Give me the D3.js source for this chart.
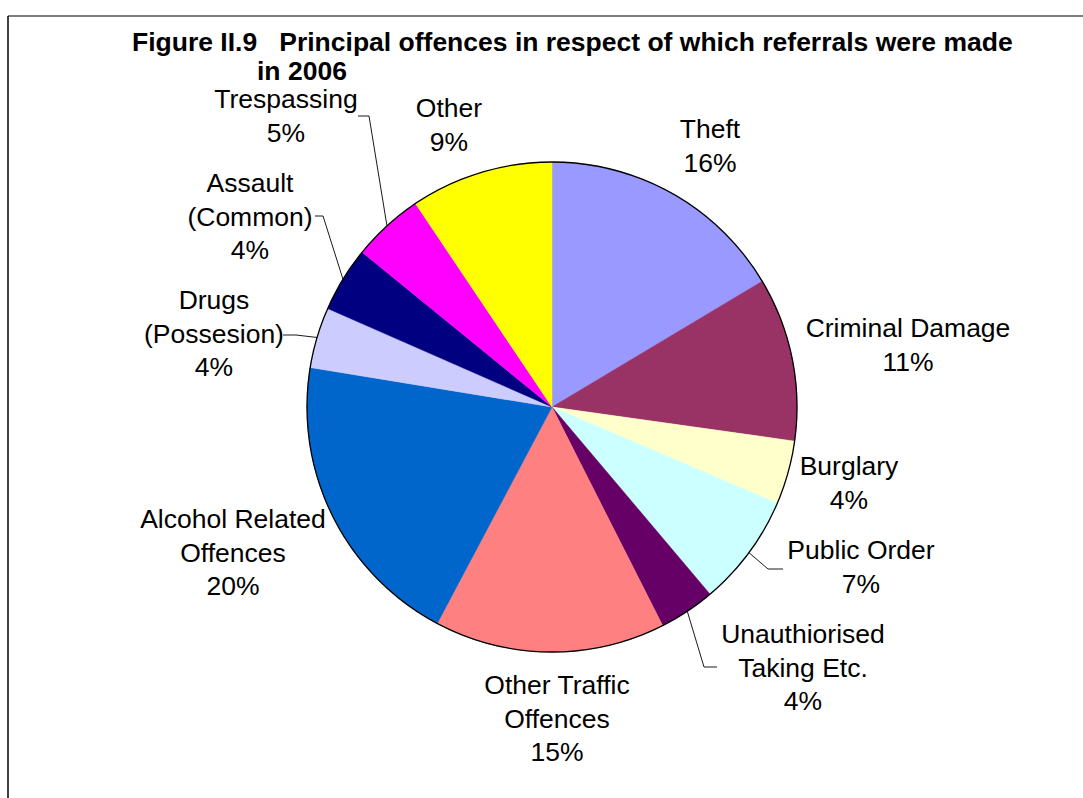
<!DOCTYPE html>
<html>
<head>
<meta charset="utf-8">
<script src="https://cdn.jsdelivr.net/npm/d3@7"></script>
<style>
  html, body { margin: 0; padding: 0; background: #fff; }
  svg { display: block; }
  text { font-family: "Liberation Sans", Arial, sans-serif; fill: #000; }
</style>
</head>
<body>
<svg id="chart" width="1083" height="798"></svg>
<script>
// ---- data ----
const categories = ["Theft", "Criminal Damage", "Burglary", "Public Order", "Unauthiorised Taking Etc.",
  "Other Traffic Offences", "Alcohol Related Offences", "Drugs (Possesion)", "Assault (Common)", "Trespassing", "Other"];
const labelLines = [["Theft"], ["Criminal Damage"], ["Burglary"], ["Public Order"], ["Unauthiorised", "Taking Etc."],
  ["Other Traffic", "Offences"], ["Alcohol Related", "Offences"], ["Drugs", "(Possesion)"], ["Assault", "(Common)"], ["Trespassing"], ["Other"]];
const values = [16.4, 10.8, 4.2, 7.4, 3.7, 15.2, 19.8, 4.0, 4.3, 4.7, 9.4];
const colors = ["#9999FF", "#993366", "#FFFFCC", "#CCFFFF", "#660066", "#FF8080", "#0066CC", "#CCCCFF", "#000080", "#FF00FF", "#FFFF00"];
const titleLines = ["Figure II.9   Principal offences in respect of which referrals were made", "in 2006"];

// ---- layout ----
const cx = 552, cy = 407, R = 245;
// label anchor (center x, first baseline y), and optional leader elbow/end points
const labelLayout = [
  { x: 710, y: 138 },
  { x: 908, y: 337 },
  { x: 849, y: 475 },
  { x: 861, y: 559, leader: [[768, 569], [783, 569]] },
  { x: 803, y: 643, leader: [[704, 667], [717, 667]] },
  { x: 557, y: 694 },
  { x: 233, y: 528 },
  { x: 214, y: 309, leader: [[296, 335], [283, 335]] },
  { x: 250, y: 192, leader: [[323, 216], [315, 216]] },
  { x: 286, y: 108, leader: [[369, 116], [358, 116]] },
  { x: 449, y: 117 }
];
const lineH = 33.5;
const fs = 26.5;

const svg = d3.select("#chart");

// frame lines
svg.append("line").attr("x1", 8).attr("y1", 16).attr("x2", 1083).attr("y2", 16)
  .attr("stroke", "#000").attr("stroke-width", 1.2);
svg.append("line").attr("x1", 8).attr("y1", 16).attr("x2", 8).attr("y2", 798)
  .attr("stroke", "#000").attr("stroke-width", 1.5);

// title (two separate lines)
const titlePos = [[132, 51], [257, 80]];
titleLines.forEach((s, k) => {
  svg.append("text").attr("font-weight", "bold").attr("font-size", fs)
    .style("white-space", "pre")
    .attr("x", titlePos[k][0]).attr("y", titlePos[k][1]).text(s);
});

const total = d3.sum(values);
const pie = d3.pie().sort(null).value(d => d).startAngle(0).endAngle(2 * Math.PI);
const arcs = pie(values);
const arc = d3.arc().innerRadius(0).outerRadius(R);

const g = svg.append("g").attr("transform", `translate(${cx},${cy})`);
g.selectAll("path.slice").data(arcs).join("path")
  .attr("class", "slice")
  .attr("d", arc)
  .attr("fill", (d, i) => colors[i])
  .attr("stroke", (d, i) => colors[i])
  .attr("stroke-width", 0.5);
g.append("circle").attr("r", R).attr("fill", "none").attr("stroke", "#000").attr("stroke-width", 1.3);

// leader lines
const pct = d3.format(".0%");
arcs.forEach((a, i) => {
  const L = labelLayout[i];
  if (L.leader) {
    const mid = (a.startAngle + a.endAngle) / 2;
    const p0 = [cx + R * Math.sin(mid), cy - R * Math.cos(mid)];
    const pts = [p0, ...L.leader];
    svg.append("path").attr("d", d3.line()(pts)).attr("fill", "none")
      .attr("stroke", "#000").attr("stroke-width", 0.9);
  }
});

// labels
arcs.forEach((a, i) => {
  const L = labelLayout[i];
  const lines = [...labelLines[i], pct(values[i] / total)];
  const t = svg.append("text").attr("font-size", fs).attr("text-anchor", "middle");
  lines.forEach((s, k) => {
    t.append("tspan").attr("x", L.x).attr("y", L.y + k * lineH).text(s);
  });
});
</script>
</body>
</html>
